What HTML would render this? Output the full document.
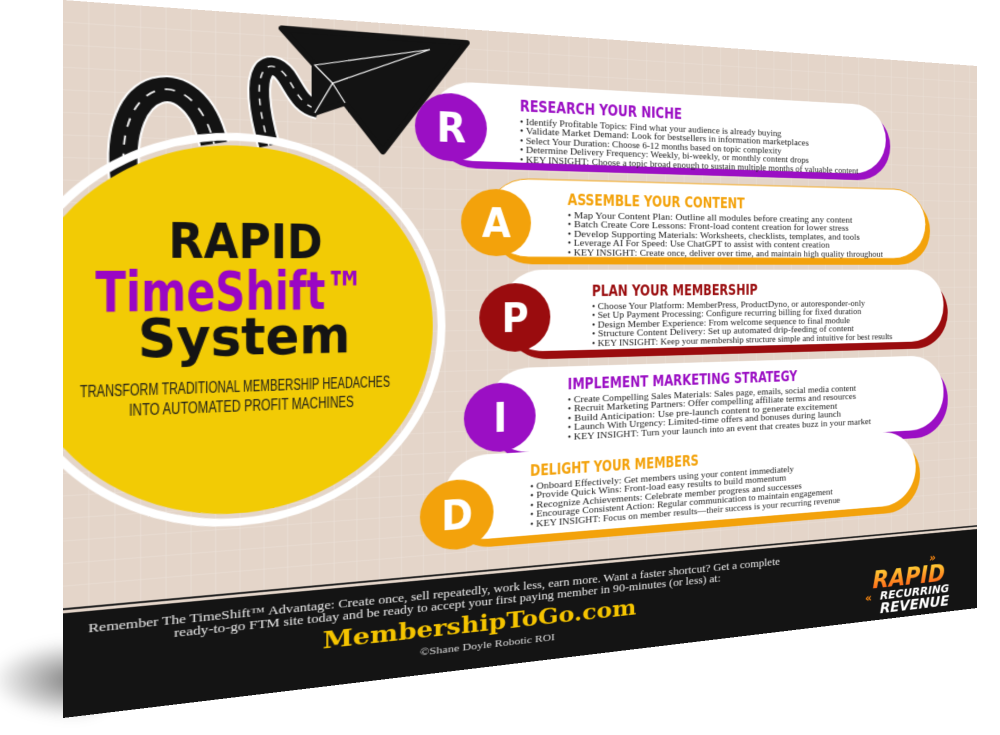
<!DOCTYPE html>
<html><head><meta charset="utf-8"><style>
html,body{margin:0;padding:0;background:#fff;width:1000px;height:735px;overflow:hidden;position:relative}
#shadow{position:absolute;left:-10px;top:640px;width:130px;height:80px;border-radius:50%;background:radial-gradient(ellipse at 70% 50%,rgba(0,0,0,.55),rgba(0,0,0,0) 70%);filter:blur(6px)}
#card{position:absolute;left:0;top:0;width:1000px;height:700px;transform-origin:0 0;
transform:matrix3d(1.23125,0.08743,0,0.00032472, 0,1.025714,0,0, 0,0,1,0, 63,0,0,1)}
.t{font-family:"DejaVu Sans Condensed","DejaVu Sans",sans-serif;font-weight:bold}
.b{font-family:"Liberation Serif",serif;font-size:11px;fill:#222}
</style></head><body>
<div id="shadow"></div>
<div id="card">
<svg width="1000" height="700" viewBox="0 0 1000 700" xmlns="http://www.w3.org/2000/svg">
<defs>
<pattern id="grid" width="22" height="22" patternUnits="userSpaceOnUse">
<rect width="22" height="22" fill="#e4d5c9"/>
<path d="M22 0V22M0 22H22" stroke="#ece2d9" stroke-width="1.2" fill="none"/>
</pattern>
<linearGradient id="fire" x1="0" y1="0" x2="0" y2="1"><stop offset="0" stop-color="#ffe13a"/><stop offset="1" stop-color="#ff4a10"/></linearGradient>
</defs>
<rect width="1000" height="700" fill="url(#grid)"/>

<!-- road -->
<g fill="none" stroke-linecap="butt">
<path d="M52 175 C40 70,112 50,130 135" stroke="#fff" stroke-width="28"/>
<path d="M52 175 C40 70,112 50,130 135" stroke="#131313" stroke-width="24"/>
<path d="M52 175 C40 70,112 50,130 135" stroke="#fff" stroke-width="1.6" stroke-dasharray="9 9"/>
<path d="M180 135 C158 50,182 42,196 62 C206 78,210 92,226 95" stroke="#fff" stroke-width="22"/>
<path d="M180 135 C158 50,182 42,196 62 C206 78,210 92,226 95" stroke="#131313" stroke-width="18"/>
<path d="M180 135 C158 50,182 42,196 62 C206 78,210 92,226 95" stroke="#fff" stroke-width="1.4" stroke-dasharray="7 7"/>
</g>
<!-- paper plane -->
<polygon points="192,13 374,15 289,137 252,87 223,99 223,49" fill="#131313" stroke="#131313" stroke-width="6" stroke-linejoin="round"/>
<g stroke="#fff" stroke-width="1.2" fill="none">
<path d="M223 49 L336 25 L240 67 Z"/><path d="M240 67 L223 99"/><path d="M240 67 L252 87"/>
</g>

<!-- big circle -->
<circle cx="151" cy="324" r="197" fill="none" stroke="#fff" stroke-width="8"/>
<circle cx="151" cy="324" r="188" fill="#f2cb05"/>
<text class="t" x="160" y="251" text-anchor="middle" font-size="50" fill="#141414" textLength="141" lengthAdjust="spacingAndGlyphs">RAPID</text>
<text class="t" x="149" y="304" text-anchor="middle" font-size="55" fill="#9a06c4" textLength="244" lengthAdjust="spacingAndGlyphs">TimeShift™</text>
<text class="t" x="160" y="350" text-anchor="middle" font-size="54" fill="#141414" textLength="194" lengthAdjust="spacingAndGlyphs">System</text>
<text x="155" y="388" text-anchor="middle" font-family="Liberation Sans Narrow,Liberation Sans,sans-serif" font-size="17" fill="#1a1a1a" textLength="282" lengthAdjust="spacingAndGlyphs">TRANSFORM TRADITIONAL MEMBERSHIP HEADACHES</text>
<text x="158" y="408" text-anchor="middle" font-family="Liberation Sans Narrow,Liberation Sans,sans-serif" font-size="17" fill="#1a1a1a" textLength="205" lengthAdjust="spacingAndGlyphs">INTO AUTOMATED PROFIT MACHINES</text>

<!-- R -->
<rect x="340" y="66" width="538" height="86" rx="44" fill="#9b0fc4"/>
<rect x="336" y="58" width="536" height="86" rx="44" fill="#fff"/>
<circle cx="358" cy="108" r="37" fill="#9b0fc4"/>
<text class="t" x="358" y="124" text-anchor="middle" font-size="44" fill="#fff">R</text>
<text class="t" x="430" y="87" font-size="17" fill="#9b0fc4" textLength="183" lengthAdjust="spacingAndGlyphs">RESEARCH YOUR NICHE</text>
<g class="b">
<text x="430" y="102" textLength="305" lengthAdjust="spacingAndGlyphs">• Identify Profitable Topics: Find what your audience is already buying</text>
<text x="430" y="112.5" textLength="340" lengthAdjust="spacingAndGlyphs">• Validate Market Demand: Look for bestsellers in information marketplaces</text>
<text x="430" y="123" textLength="305" lengthAdjust="spacingAndGlyphs">• Select Your Duration: Choose 6-12 months based on topic complexity</text>
<text x="430" y="133.5" textLength="340" lengthAdjust="spacingAndGlyphs">• Determine Delivery Frequency: Weekly, bi-weekly, or monthly content drops</text>
<text x="430" y="144" textLength="405" lengthAdjust="spacingAndGlyphs">• KEY INSIGHT: Choose a topic broad enough to sustain multiple months of valuable content</text>
</g>

<!-- A -->
<rect x="399" y="171" width="534" height="86" rx="44" fill="#f3a20b"/>
<rect x="395" y="162" width="532" height="87" rx="44" fill="#fff" stroke="#f3a20b" stroke-width="1"/>
<circle cx="405" cy="211" r="37" fill="#f3a20b"/>
<text class="t" x="405" y="227" text-anchor="middle" font-size="44" fill="#fff">A</text>
<text class="t" x="482" y="190" font-size="17" fill="#f3a20b" textLength="207" lengthAdjust="spacingAndGlyphs">ASSEMBLE YOUR CONTENT</text>
<g class="b">
<text x="482" y="205" textLength="345" lengthAdjust="spacingAndGlyphs">• Map Your Content Plan: Outline all modules before creating any content</text>
<text x="482" y="215.5" textLength="340" lengthAdjust="spacingAndGlyphs">• Batch Create Core Lessons: Front-load content creation for lower stress</text>
<text x="482" y="226" textLength="355" lengthAdjust="spacingAndGlyphs">• Develop Supporting Materials: Worksheets, checklists, templates, and tools</text>
<text x="482" y="236.5" textLength="315" lengthAdjust="spacingAndGlyphs">• Leverage AI For Speed: Use ChatGPT to assist with content creation</text>
<text x="482" y="247" textLength="386" lengthAdjust="spacingAndGlyphs">• KEY INSIGHT: Create once, deliver over time, and maintain high quality throughout</text>
</g>

<!-- P -->
<rect x="414" y="273" width="544" height="90" rx="45" fill="#9a0c0e"/>
<rect x="410" y="263" width="542" height="91" rx="45" fill="#fff"/>
<circle cx="425" cy="316" r="38" fill="#9a0c0e"/>
<text class="t" x="425" y="332" text-anchor="middle" font-size="44" fill="#fff">P</text>
<text class="t" x="509" y="293" font-size="17" fill="#9a0c0e" textLength="196" lengthAdjust="spacingAndGlyphs">PLAN YOUR MEMBERSHIP</text>
<g class="b">
<text x="509" y="308" textLength="335" lengthAdjust="spacingAndGlyphs">• Choose Your Platform: MemberPress, ProductDyno, or autoresponder-only</text>
<text x="509" y="318.5" textLength="330" lengthAdjust="spacingAndGlyphs">• Set Up Payment Processing: Configure recurring billing for fixed duration</text>
<text x="509" y="329" textLength="315" lengthAdjust="spacingAndGlyphs">• Design Member Experience: From welcome sequence to final module</text>
<text x="509" y="339.5" textLength="320" lengthAdjust="spacingAndGlyphs">• Structure Content Delivery: Set up automated drip-feeding of content</text>
<text x="509" y="350" textLength="372" lengthAdjust="spacingAndGlyphs">• KEY INSIGHT: Keep your membership structure simple and intuitive for best results</text>
</g>

<!-- I -->
<rect x="399" y="382" width="559" height="94" rx="46" fill="#9b0fc4"/>
<rect x="395" y="372" width="557" height="94" rx="46" fill="#fff"/>
<circle cx="409" cy="426" r="38" fill="#9b0fc4"/>
<text class="t" x="409" y="442" text-anchor="middle" font-size="44" fill="#fff">I</text>
<text class="t" x="482" y="398" font-size="17" fill="#9b0fc4" textLength="273" lengthAdjust="spacingAndGlyphs">IMPLEMENT MARKETING STRATEGY</text>
<g class="b">
<text x="482" y="413" textLength="350" lengthAdjust="spacingAndGlyphs">• Create Compelling Sales Materials: Sales page, emails, social media content</text>
<text x="482" y="423.5" textLength="350" lengthAdjust="spacingAndGlyphs">• Recruit Marketing Partners: Offer compelling affiliate terms and resources</text>
<text x="482" y="434" textLength="325" lengthAdjust="spacingAndGlyphs">• Build Anticipation: Use pre-launch content to generate excitement</text>
<text x="482" y="444.5" textLength="330" lengthAdjust="spacingAndGlyphs">• Launch With Urgency: Limited-time offers and bonuses during launch</text>
<text x="482" y="455" textLength="370" lengthAdjust="spacingAndGlyphs">• KEY INSIGHT: Turn your launch into an event that creates buzz in your market</text>
</g>

<!-- D -->
<rect x="354" y="476" width="565" height="92" rx="46" fill="#f3a20b"/>
<rect x="350" y="466" width="563" height="93" rx="46" fill="#fff"/>
<circle cx="364" cy="530" r="38" fill="#f3a20b"/>
<text class="t" x="364" y="546" text-anchor="middle" font-size="44" fill="#fff">D</text>
<text class="t" x="441" y="493" font-size="17" fill="#f3a20b" textLength="192" lengthAdjust="spacingAndGlyphs">DELIGHT YOUR MEMBERS</text>
<g class="b">
<text x="441" y="508" textLength="310" lengthAdjust="spacingAndGlyphs">• Onboard Effectively: Get members using your content immediately</text>
<text x="441" y="518.5" textLength="300" lengthAdjust="spacingAndGlyphs">• Provide Quick Wins: Front-load easy results to build momentum</text>
<text x="441" y="529" textLength="320" lengthAdjust="spacingAndGlyphs">• Recognize Achievements: Celebrate member progress and successes</text>
<text x="441" y="539.5" textLength="360" lengthAdjust="spacingAndGlyphs">• Encourage Consistent Action: Regular communication to maintain engagement</text>
<text x="441" y="550" textLength="370" lengthAdjust="spacingAndGlyphs">• KEY INSIGHT: Focus on member results—their success is your recurring revenue</text>
</g>

<!-- band -->
<rect x="0" y="593" width="1000" height="2" fill="#222"/>
<rect x="0" y="598" width="1000" height="102" fill="#141414"/>
<text x="377" y="619" text-anchor="middle" font-family="Liberation Serif,serif" font-size="12.5" fill="#eee" textLength="712" lengthAdjust="spacingAndGlyphs">Remember The TimeShift™ Advantage: Create once, sell repeatedly, work less, earn more. Want a faster shortcut? Get a complete</text>
<text x="377" y="632" text-anchor="middle" font-family="Liberation Serif,serif" font-size="12.5" fill="#eee" textLength="565" lengthAdjust="spacingAndGlyphs">ready-to-go FTM site today and be ready to accept your first paying member in 90-minutes (or less) at:</text>
<text x="395" y="660" text-anchor="middle" font-family="DejaVu Serif,serif" font-weight="bold" font-size="25" fill="#f5c400" textLength="329" lengthAdjust="spacingAndGlyphs">MembershipToGo.com</text>
<text x="397" y="679" text-anchor="middle" font-family="Liberation Serif,serif" font-size="11" fill="#ddd" textLength="142" lengthAdjust="spacingAndGlyphs">©Shane Doyle Robotic ROI</text>

<!-- logo -->
<g transform="translate(844,620)">
<text x="88" y="14" font-family="DejaVu Sans" font-weight="bold" font-size="14" fill="#ff8a10" font-style="italic">»</text>
<text x="10" y="40" font-family="DejaVu Sans Condensed,DejaVu Sans" font-weight="bold" font-style="italic" font-size="30" fill="url(#fire)" textLength="100" lengthAdjust="spacingAndGlyphs">RAPID</text>
<text x="0" y="56" font-family="DejaVu Sans" font-weight="bold" font-size="14" fill="#ff8a10">«</text>
<text x="20" y="55" font-family="DejaVu Sans Condensed,DejaVu Sans" font-weight="bold" font-style="italic" font-size="14" fill="#fff" textLength="96" lengthAdjust="spacingAndGlyphs">RECURRING</text>
<text x="20" y="72" font-family="DejaVu Sans Condensed,DejaVu Sans" font-weight="bold" font-style="italic" font-size="18" fill="#fff" textLength="96" lengthAdjust="spacingAndGlyphs">REVENUE</text>
</g>
</svg>
</div>
</body></html>
